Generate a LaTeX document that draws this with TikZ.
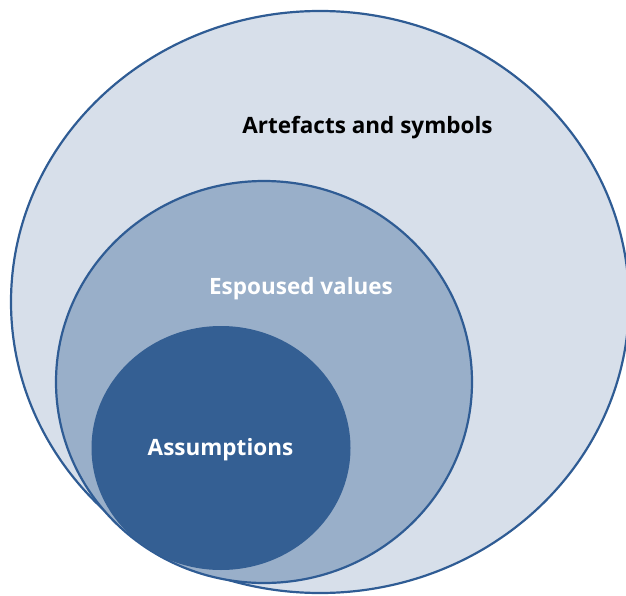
\documentclass[tikz,border=0pt]{standalone}
\usepackage{fontspec}
\setmainfont{Open Sans}
\definecolor{outerfill}{HTML}{D7DFEA}
\definecolor{midfill}{HTML}{99AFC9}
\definecolor{innerfill}{HTML}{345F93}
\definecolor{edge}{HTML}{2F5C94}
\tikzset{
  ring/.style={draw=edge, line width=2.2pt},
  lbl/.style={font=\bfseries\fontsize{22.5}{26}\selectfont, anchor=base, inner sep=0pt}
}
\begin{document}
\begin{tikzpicture}[x=1pt,y=-1pt]
\useasboundingbox (0,0) rectangle (626,596);
\begin{scope}
\clip (0,0) rectangle (626,596);
\draw[ring, fill=outerfill] (320,302) ellipse [x radius=309, y radius=291];
\draw[ring, fill=midfill] (264,382) ellipse [x radius=208, y radius=201];
\fill[innerfill] (221,448) ellipse [x radius=129.5, y radius=122];
\end{scope}
\node[lbl, text=black] (art) at (367.5,134) {Artefacts and symbols};
\node[lbl, text=white] (esp) at (301,294) {Espoused values};
\node[lbl, text=white] (ass) at (220.5,455) {Assumptions};
\end{tikzpicture}
\end{document}
